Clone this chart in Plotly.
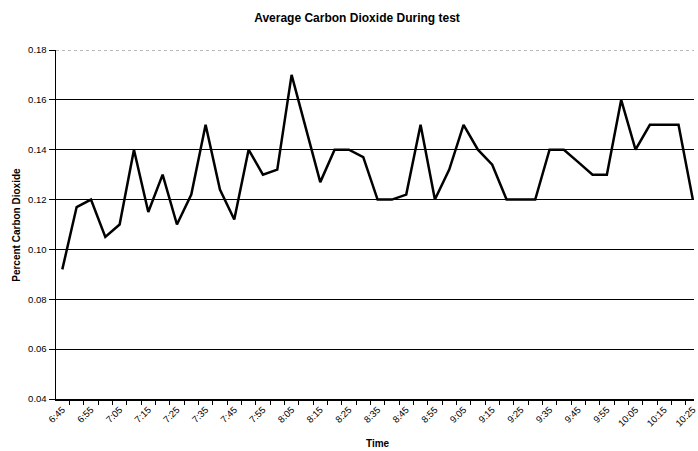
import plotly.graph_objects as go

times = ["6:45", "6:50", "6:55", "7:00", "7:05", "7:10", "7:15", "7:20", "7:25", "7:30",
         "7:35", "7:40", "7:45", "7:50", "7:55", "8:00", "8:05", "8:10", "8:15", "8:20",
         "8:25", "8:30", "8:35", "8:40", "8:45", "8:50", "8:55", "9:00", "9:05", "9:10",
         "9:15", "9:20", "9:25", "9:30", "9:35", "9:40", "9:45", "9:50", "9:55", "10:00",
         "10:05", "10:10", "10:15", "10:20", "10:25"]
co2 = [0.092, 0.117, 0.120, 0.105, 0.110, 0.140, 0.115, 0.130, 0.110, 0.122,
       0.150, 0.124, 0.112, 0.140, 0.130, 0.132, 0.170, 0.148, 0.127, 0.140,
       0.140, 0.137, 0.120, 0.120, 0.122, 0.150, 0.120, 0.132, 0.150, 0.140,
       0.134, 0.120, 0.120, 0.120, 0.140, 0.140, 0.135, 0.130, 0.130, 0.160,
       0.140, 0.150, 0.150, 0.150, 0.120]
y_ticks = [0.04, 0.06, 0.08, 0.10, 0.12, 0.14, 0.16, 0.18]

FONT = "Arial, Liberation Sans, sans-serif"
idx = list(range(len(times)))

fig = go.Figure()
fig.add_trace(go.Scatter(x=idx, y=co2, mode="lines",
                         line=dict(color="black", width=2.5),
                         hoverinfo="skip", showlegend=False))

fig.update_layout(
    width=698, height=451,
    margin=dict(l=56, r=0, t=50, b=52),
    paper_bgcolor="white", plot_bgcolor="white",
    font=dict(family=FONT, color="black", size=9),
    title=dict(text="<b>Average Carbon Dioxide During test</b>",
               x=357/698, xref="container", xanchor="center",
               y=1-18/451, yref="container", yanchor="middle",
               font=dict(size=12, family=FONT, color="black")),
    xaxis=dict(range=[-0.44, 44.08],
               tickmode="array", tickvals=idx[::2], ticktext=times[::2],
               tickangle=-45, ticks="", showgrid=False, zeroline=False,
               ticklabeloverflow="allow",
               showline=True, linecolor="black", linewidth=1.5,
               tickfont=dict(size=9.5, family=FONT, color="black"),
               minor=dict(tick0=-0.5, dtick=1, ticks="outside", ticklen=4,
                          tickcolor="black", tickwidth=1, showgrid=False)),
    yaxis=dict(range=[0.04, 0.18], tickmode="array", tickvals=y_ticks,
               tickformat=".2f", ticks="outside", ticklen=6, tickcolor="black",
               showgrid=True, gridcolor="black", gridwidth=1, zeroline=False,
               showline=True, linecolor="black", linewidth=1.5,
               tickfont=dict(size=9.5, family=FONT, color="black")),
)

# top gridline drawn dotted grey like the reference
fig.add_shape(type="line", xref="paper", x0=0, x1=1, yref="y", y0=y_ticks[-1], y1=y_ticks[-1],
              line=dict(color="white", width=2), layer="above")
fig.add_shape(type="line", xref="paper", x0=0, x1=1, yref="y", y0=y_ticks[-1], y1=y_ticks[-1],
              line=dict(color="#777777", width=1, dash="dot"), layer="above")

fig.add_annotation(text="<b>Time</b>", xref="paper", yref="paper",
                   x=(380-56)/642, y=-(443-399)/349, showarrow=False,
                   xanchor="center", yanchor="middle",
                   font=dict(size=10, family=FONT, color="black"))
fig.add_annotation(text="<b>Percent Carbon Dioxide</b>", xref="paper", yref="paper",
                   x=(16-56)/642, y=0.5, showarrow=False, textangle=-90,
                   xanchor="center", yanchor="middle",
                   font=dict(size=10, family=FONT, color="black"))

fig.write_html("out.html",
               config={"displayModeBar": False, "staticPlot": True},
               post_script="document.body.style.margin='0';document.body.style.overflow='hidden';")
